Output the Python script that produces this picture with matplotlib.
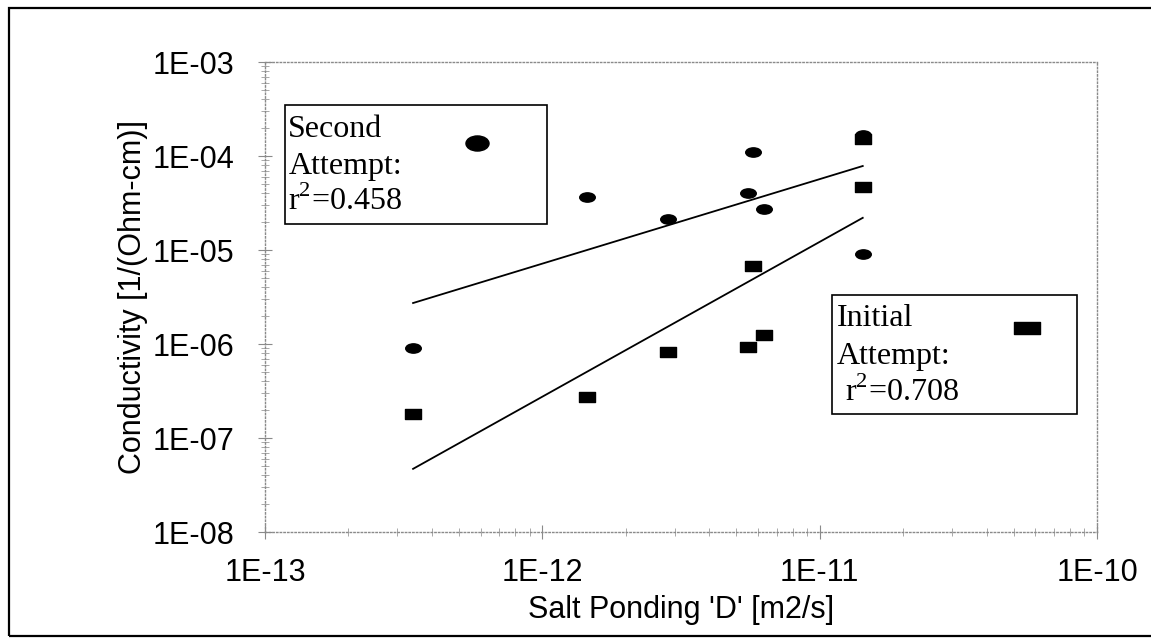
import numpy as np
import matplotlib
matplotlib.use("Agg")
from matplotlib import pyplot as plt
from matplotlib.path import Path
from matplotlib.patches import Rectangle

plt.rcParams['font.family'] = ['Liberation Sans', 'DejaVu Sans']
plt.rcParams['mathtext.fontset'] = 'custom'
plt.rcParams['mathtext.rm'] = 'Liberation Serif'

# salt ponding diffusion coefficient (m2/s), shared by both attempts
salt_d = [3.42e-13, 1.45e-12, 2.85e-12, 5.5e-12, 5.75e-12, 6.3e-12, 1.43e-11, 1.43e-11]
# conductivity 1/(Ohm-cm)
second_attempt = [9.1e-7, 3.66e-5, 2.14e-5, 4.04e-5, 1.10e-4, 2.73e-5, 1.67e-4, 9.1e-6]
initial_attempt = [1.80e-7, 2.73e-7, 8.2e-7, 9.3e-7, 6.76e-6, 1.25e-6, 1.52e-4, 4.68e-5]

# trend line end points
trend_x = [3.42e-13, 1.43e-11]
second_trend = [2.73e-6, 7.83e-5]
initial_trend = [4.7e-8, 2.2e-5]

second_label = ["Second", "Attempt:", "r$^{2}$=0.458"]
initial_label = ["Initial", "Attempt:", " r$^{2}$=0.708"]

xticks = [1e-13, 1e-12, 1e-11, 1e-10]
xticklabels = ["1E-13", "1E-12", "1E-11", "1E-10"]
yticks = [1e-8, 1e-7, 1e-6, 1e-5, 1e-4, 1e-3]
yticklabels = ["1E-08", "1E-07", "1E-06", "1E-05", "1E-04", "1E-03"]


def ellipse_marker(ratio):
    v = np.array(Path.unit_circle().vertices) * [1.0, 1.0 / ratio]
    return Path(v, Path.unit_circle().codes)


def rect_marker(ratio):
    h = 1.0 / ratio
    return Path([(-1, -h), (1, -h), (1, h), (-1, h), (-1, -h)],
                [Path.MOVETO, Path.LINETO, Path.LINETO, Path.LINETO, Path.CLOSEPOLY])


fig = plt.figure(figsize=(11.51, 6.38), dpi=100)
ax = fig.add_axes([0.2302, 0.1661, 0.7229, 0.7367])

ax.plot(salt_d, initial_attempt, linestyle='none', marker=rect_marker(1.78),
        markersize=12, color='black')
ax.plot(salt_d, second_attempt, linestyle='none', marker=ellipse_marker(1.67),
        markersize=11.2, color='black')
ax.plot(trend_x, second_trend, '-', color='black', linewidth=1.3)
ax.plot(trend_x, initial_trend, '-', color='black', linewidth=1.3)

ax.set_xscale('log')
ax.set_yscale('log')
ax.set_xlim(1e-13, 1e-10)
ax.set_ylim(1e-8, 1e-3)
ax.set_xticks(xticks)
ax.set_xticklabels(xticklabels)
ax.set_yticks(yticks)
ax.set_yticklabels(yticklabels)

for s in ax.spines.values():
    s.set_color('#8a8a8a')
    s.set_linestyle(':')
    s.set_linewidth(1.0)
ax.tick_params(which='major', direction='inout', length=10, width=0.8,
               color='#8a8a8a', labelsize=22, pad=17)
ax.tick_params(axis='x', which='major', pad=14)
ax.tick_params(which='minor', direction='inout', length=6, width=0.6,
               color='#9a9a9a')

ax.set_xlabel("Salt Ponding 'D' [m2/s]", fontsize=22, va='center')
ax.set_ylabel("Conductivity [1/(Ohm-cm)]", fontsize=22, va='center')
ax.xaxis.set_label_coords(0.5, -0.166)
ax.yaxis.set_label_coords(-0.159, 0.5)

# legend boxes
ax.add_patch(Rectangle((0.024, 0.655), 0.315, 0.2535, transform=ax.transAxes,
                       fill=False, edgecolor='black', linewidth=1.2, zorder=5))
ax.add_patch(Rectangle((0.6815, 0.251), 0.2945, 0.253, transform=ax.transAxes,
                       fill=False, edgecolor='black', linewidth=1.2, zorder=5))

for i, line in enumerate(second_label):
    ax.text(0.028, 0.84 - i * 0.0777, line, transform=ax.transAxes,
            family='Liberation Serif', fontsize=23, va='baseline', ha='left')
for i, line in enumerate(initial_label):
    ax.text(0.6875, 0.438 - i * 0.0798, line, transform=ax.transAxes,
            family='Liberation Serif', fontsize=23, va='baseline', ha='left')

ax.plot([0.255], [0.828], transform=ax.transAxes, linestyle='none',
        marker=ellipse_marker(1.53), markersize=16.6, color='black', clip_on=False)
ax.plot([0.916], [0.434], transform=ax.transAxes, linestyle='none',
        marker=rect_marker(2.0), markersize=18.7, color='black', clip_on=False)

# outer border of the scanned figure
fig.patches.append(Rectangle((9 / 1151, 2 / 638), 1.1, 628 / 638,
                             transform=fig.transFigure, fill=False,
                             edgecolor='black', linewidth=1.6))

fig.savefig("out.png", dpi=100)
